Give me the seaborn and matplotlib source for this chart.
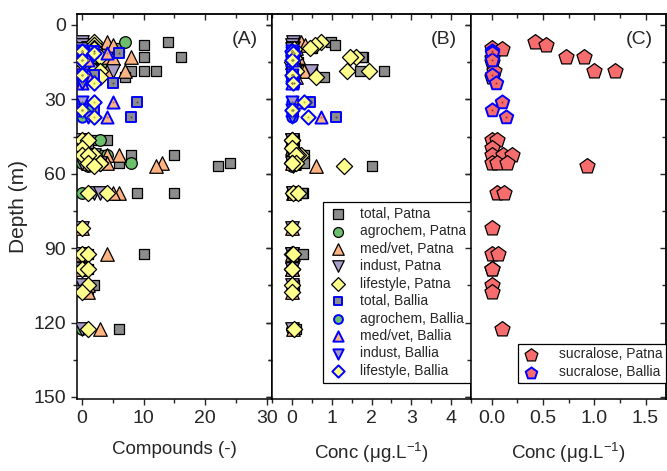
import numpy as np
import matplotlib
matplotlib.use("Agg")
import matplotlib.pyplot as plt
import seaborn as sns
from matplotlib.ticker import MultipleLocator

sns.set_style("ticks")
plt.rcParams['font.family'] = ['Liberation Sans', 'DejaVu Sans']
plt.rcParams['mathtext.default'] = 'regular'

# Patna samples (depth in m)
patna_depth = [6.7, 8.1, 9.4, 9.7, 12.8, 12.8, 13.5, 15.0, 18.5, 18.5, 18.5, 20.8,
               46.4, 46.4, 49.7, 52.4, 52.4, 52.4, 55.8, 55.8, 55.8, 57.0, 67.9, 67.9,
               81.7, 92.3, 92.3, 98.5, 98.5, 104.8, 107.5, 122.7]
# number of compounds detected
patna_total = [14, 10, 6, 3, 10, 16, 3, 4, 10, 12, 8, 7, 4, 2, 1, 8, 15, 3, 24, 6, 3, 22, 9, 15,
               0, 10, 1, 1, 0, 2, 1, 6]
patna_agro = [7, 1, 1, 0, 1, 2, 0, 4, 0, 1, 0, 0, 3, 0, 0, 4, 1, 1, 8, 1, 0, 1, 1, 0,
              0, 0, 0, 0, 0, 0, 0, 0]
patna_med = [4, 5, 2, 1, 8, 4, 5, 0, 7, 4, 3, 2, 0, 0, 0, 6, 4, 1, 13, 4, 1, 12, 6, 5,
             0, 4, 0, 0, 0, 1, 1, 3]
patna_indust = [0, 0, 1, 0, 0, 1, 0, 0, 1, 5, 2, 2, 0, 0, 0, 1, 2, 0, 2, 3, 0, 2, 2, 3,
                0, 0, 0, 0, 0, 0, 0, 0]
patna_life = [2, 2, 2, 2, 1, 3, 1, 0, 2, 2, 3, 3, 0, 1, 0, 0, 2, 1, 1, 3, 3, 2, 1, 4,
              0, 0, 1, 0, 1, 1, 0, 1]
# concentrations (ug/L)
patna_c_total = [0.97, 1.08, 0.5, 0.1, 1.79, 1.75, 0.1, 0.15, 1.7, 2.32, 0.5, 0.8,
                 0.05, 0.02, 0.0, 0.3, 0.2, 0.05, 0.3, 0.1, 0.05, 2.02, 0.28, 0.25,
                 0.0, 0.28, 0.01, 0.01, 0.0, 0.05, 0.0, 0.1]
patna_c_agro = [0.0, 0.01, 0.0, 0.0, 0.0, 0.01, 0.0, 0.02, 0.0, 0.0, 0.0, 0.0,
                0.01, 0.0, 0.0, 0.01, 0.0, 0.0, 0.02, 0.0, 0.0, 0.0, 0.0, 0.0,
                0.0, 0.0, 0.0, 0.0, 0.0, 0.0, 0.0, 0.0]
patna_c_med = [0.22, 0.34, 0.1, 0.02, 0.1, 0.15, 0.05, 0.0, 0.25, 0.3, 0.05, 0.1,
               0.0, 0.0, 0.0, 0.05, 0.02, 0.0, 0.05, 0.02, 0.0, 0.61, 0.03, 0.05,
               0.0, 0.02, 0.0, 0.0, 0.0, 0.0, 0.0, 0.02]
patna_c_indust = [0.03, 0.0, 0.02, 0.0, 0.0, 0.05, 0.0, 0.0, 0.05, 0.0, 0.49, 0.1,
                  0.0, 0.0, 0.0, 0.02, 0.03, 0.0, 0.05, 0.03, 0.0, 0.03, 0.02, 0.03,
                  0.0, 0.0, 0.0, 0.0, 0.0, 0.0, 0.0, 0.0]
patna_c_life = [0.72, 0.59, 0.45, 0.05, 1.6, 1.45, 0.05, 0.0, 1.39, 1.94, 0.1, 0.61,
                0.0, 0.0, 0.0, 0.22, 0.15, 0.1, 0.0, 0.1, 0.0, 1.31, 0.02, 0.15,
                0.0, 0.0, 0.02, 0.0, 0.0, 0.0, 0.0, 0.05]
patna_sucralose = [0.42, 0.53, 0.0, 0.1, 0.73, 0.90, 0.0, 0.0, 1.0, 1.2, 0.02, 0.0,
                   0.0, 0.05, 0.0, 0.0, 0.11, 0.2, 0.0, 0.05, 0.15, 0.93, 0.05, 0.12,
                   0.0, 0.0, 0.06, 0.0, 0.0, 0.0, 0.0, 0.1]

# Ballia samples
ballia_depth = [10.5, 11.4, 14.1, 20.2, 23.5, 31.2, 34.3, 37.2]
ballia_total = [2, 6, 1, 2, 5, 9, 2, 8]
ballia_agro = [0, 2, 0, 0, 0, 0, 1, 0]
ballia_med = [0, 4, 1, 1, 0, 5, 0, 4]
ballia_indust = [0, 0, 0, 0, 0, 0, 0, 1]
ballia_life = [0, 2, 0, 0, 2, 2, 0, 2]
ballia_c_total = [0.0, 0.05, 0.02, 0.03, 0.05, 0.45, 0.02, 1.12]
ballia_c_agro = [0.0, 0.0, 0.0, 0.0, 0.0, 0.0, 0.0, 0.0]
ballia_c_med = [0.0, 0.02, 0.0, 0.0, 0.0, 0.1, 0.0, 0.72]
ballia_c_indust = [0.0, 0.0, 0.0, 0.0, 0.0, 0.0, 0.0, 0.0]
ballia_c_life = [0.0, 0.02, 0.0, 0.0, 0.02, 0.3, 0.0, 0.4]
ballia_sucralose = [0.0, 0.0, 0.0, 0.0, 0.04, 0.1, 0.0, 0.14]

groups = ['total', 'agrochem', 'med/vet', 'indust', 'lifestyle']
markers = ['s', 'o', '^', 'v', 'D']
fills = ['#8c8c8c', '#6cbf6c', '#fdb482', '#a89cc8', '#ffff8c']
dots = ['#505050', '#3a8a3a', '#c07040', '#6a5a90', '#b0b040']
sizes = [60, 70, 95, 95, 68]

patna_counts = [patna_total, patna_agro, patna_med, patna_indust, patna_life]
ballia_counts = [ballia_total, ballia_agro, ballia_med, ballia_indust, ballia_life]
patna_conc = [patna_c_total, patna_c_agro, patna_c_med, patna_c_indust, patna_c_life]
ballia_conc = [ballia_c_total, ballia_c_agro, ballia_c_med, ballia_c_indust, ballia_c_life]

fig = plt.figure(figsize=(6.67, 4.71), dpi=100)
axA = fig.add_axes([0.1154, 0.1529, 0.2924, 0.8174])
axB = fig.add_axes([0.4078, 0.1529, 0.2984, 0.8174])
axC = fig.add_axes([0.7062, 0.1529, 0.2924, 0.8174])


def draw(ax, patna_vals, ballia_vals, with_label):
    for i, g in enumerate(groups):
        sns.scatterplot(x=patna_vals[i], y=patna_depth, ax=ax, marker=markers[i],
                        color=fills[i], edgecolor='black', linewidth=0.9, s=sizes[i],
                        zorder=3, label=(g + ', Patna') if with_label else None,
                        legend=False)
    for i, g in enumerate(groups):
        sns.scatterplot(x=ballia_vals[i], y=ballia_depth, ax=ax, marker=markers[i],
                        color=fills[i], edgecolor='#0000ff', linewidth=1.4,
                        s=sizes[i] * 0.8, zorder=4,
                        label=(g + ', Ballia') if with_label else None, legend=False)
        # small centre dot seen on the Ballia symbols
        sns.scatterplot(x=ballia_vals[i], y=ballia_depth, ax=ax, marker='o',
                        color=dots[i], linewidth=0, s=2, zorder=4.5, legend=False)


draw(axA, patna_counts, ballia_counts, False)
draw(axB, patna_conc, ballia_conc, True)

sns.scatterplot(x=patna_sucralose, y=patna_depth, ax=axC, marker='p', color='#f76c6c',
                edgecolor='black', linewidth=0.9, s=130, zorder=3,
                label='sucralose, Patna', legend=False)
sns.scatterplot(x=ballia_sucralose, y=ballia_depth, ax=axC, marker='p', color='#f76c6c',
                edgecolor='#0000ff', linewidth=1.4, s=105, zorder=4,
                label='sucralose, Ballia', legend=False)
sns.scatterplot(x=ballia_sucralose, y=ballia_depth, ax=axC, marker='o', color='#a03030',
                linewidth=0, s=2, zorder=4.5, legend=False)

xlims = [(-0.8, 30.8), (-0.5, 4.5), (-0.2, 1.7)]
xmajor = [10, 1, 0.5]
xminor = [5, 0.5, 0.25]
xlabels = ['Compounds (-)', 'Conc (μg.L$^{-1}$)', 'Conc (μg.L$^{-1}$)']
tags = ['(A)', '(B)', '(C)']

for k, ax in enumerate([axA, axB, axC]):
    ax.set_ylim(150.8, -4.4)
    ax.set_xlim(*xlims[k])
    ax.xaxis.set_major_locator(MultipleLocator(xmajor[k]))
    ax.xaxis.set_minor_locator(MultipleLocator(xminor[k]))
    ax.yaxis.set_major_locator(MultipleLocator(30))
    ax.yaxis.set_minor_locator(MultipleLocator(15))
    ax.tick_params(which='major', direction='out', length=4.5, width=1.0, labelsize=14)
    ax.tick_params(which='minor', direction='out', length=3, width=1.0)
    for sp in ax.spines.values():
        sp.set_linewidth(1.1)
        sp.set_color('black')
    ax.set_xlabel(xlabels[k], fontsize=13.5, labelpad=10)
    ax.set_ylabel('')
    if k > 0:
        ax.tick_params(axis='y', labelleft=False)
    if k == 2:
        ax.xaxis.set_major_formatter(matplotlib.ticker.FormatStrFormatter('%.1f'))
    ax.text(0.93, 0.955, tags[k], transform=ax.transAxes, ha='right', va='top', fontsize=14)

    top = ax.secondary_xaxis('top')
    top.xaxis.set_major_locator(MultipleLocator(xmajor[k]))
    top.xaxis.set_minor_locator(MultipleLocator(xminor[k]))
    top.tick_params(which='major', direction='in', length=4.5, width=1.0, labeltop=False)
    top.tick_params(which='minor', direction='in', length=3, width=1.0)
    top.spines['top'].set_linewidth(1.1)
    right = ax.secondary_yaxis('right')
    right.yaxis.set_major_locator(MultipleLocator(30))
    right.yaxis.set_minor_locator(MultipleLocator(15))
    right.tick_params(which='major', direction='in', length=4.5, width=1.0, labelright=False)
    right.tick_params(which='minor', direction='in', length=3, width=1.0)
    right.spines['right'].set_linewidth(1.1)

axA.set_ylabel('Depth (m)', fontsize=15, labelpad=4)

legB = axB.legend(loc='lower right', bbox_to_anchor=(1.0, 0.042), fontsize=10,
                  frameon=True, fancybox=False, edgecolor='black', framealpha=1,
                  borderaxespad=0, labelspacing=0.25, handletextpad=0.9,
                  borderpad=0.35, handlelength=1.4, markerscale=0.85)
legB.get_frame().set_linewidth(0.9)
legC = axC.legend(loc='lower right', bbox_to_anchor=(1.0, 0.042), fontsize=10,
                  frameon=True, fancybox=False, edgecolor='black', framealpha=1,
                  borderaxespad=0, labelspacing=0.3, handletextpad=1.3,
                  borderpad=0.25, handlelength=1.4, markerscale=0.85)
legC.get_frame().set_linewidth(0.9)

fig.savefig('out.png', dpi=100)
